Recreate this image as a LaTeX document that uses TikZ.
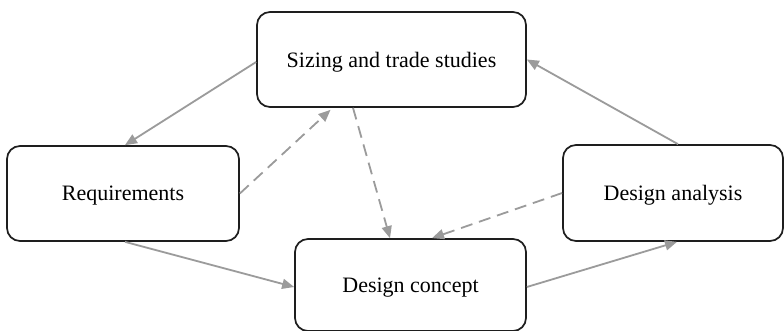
\documentclass[tikz,border=0pt]{standalone}
\usepackage{fontspec}
\setmainfont{Liberation Serif}
\usetikzlibrary{arrows.meta}
\definecolor{linkgray}{RGB}{155,155,155}
\definecolor{boxline}{RGB}{30,30,30}
\tikzset{
  stage/.style={draw=boxline, line width=1.7pt, rounded corners=13pt,
    fill=white, inner sep=0pt, text depth=0pt, font=\fontsize{22}{26}\selectfont},
  flow/.style={draw=linkgray, line width=1.8pt,
    -{Triangle[length=12pt,width=10pt]}},
  feedback/.style={flow, dash pattern=on 12pt off 7pt}
}
\begin{document}
\begin{tikzpicture}[x=1pt, y=-1pt]
  \useasboundingbox (0,0) rectangle (784,331);
  \fill[white] (0,0) rectangle (784,331);

  % process stages
  \node[stage, minimum width=269pt, minimum height=95pt] (siz) at (391.5,59.5) {Sizing and trade studies};
  \node[stage, minimum width=232pt, minimum height=95pt] (req) at (123,193.5) {Requirements};
  \node[stage, minimum width=220pt, minimum height=96pt] (ana) at (673,193) {Design analysis};
  \node[stage, minimum width=231pt, minimum height=92pt] (con) at (410.5,285) {Design concept};

  % forward flow
  \draw[flow] ([yshift=-2.5pt]siz.west) -- ([xshift=2pt]req.north);
  \draw[flow] ([xshift=2pt]req.south) -- ([yshift=-2pt]con.west);
  \draw[flow] ([yshift=-2pt]con.east) -- ([xshift=4pt]ana.south);
  \draw[flow] ([xshift=5pt]ana.north) -- (siz.east);

  % feedback paths
  \draw[feedback] (req.east) -- ([xshift=-61pt,yshift=-2pt]siz.south);
  \draw[feedback] ([xshift=-38.5pt]siz.south) -- ([xshift=-20.5pt]con.north);
  \draw[feedback] (ana.west) -- ([xshift=21.5pt]con.north);
\end{tikzpicture}
\end{document}
